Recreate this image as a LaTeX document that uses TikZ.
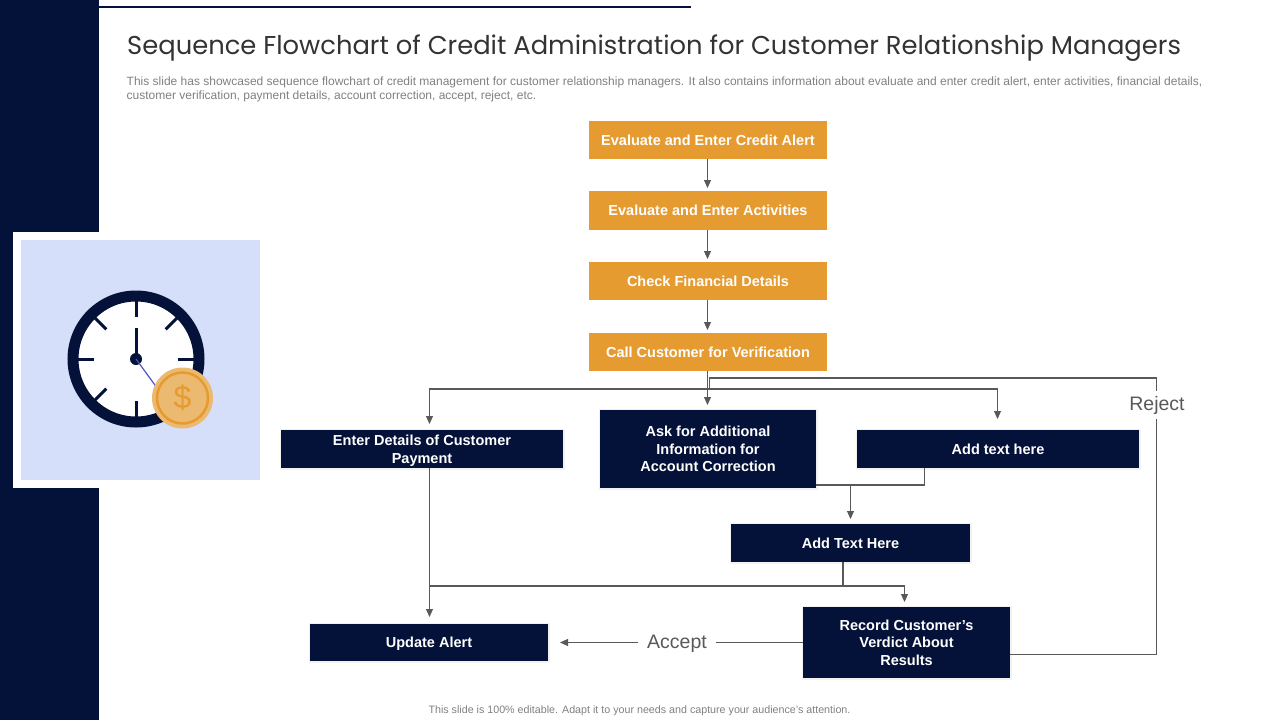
\documentclass[tikz,border=0pt]{standalone}
\usepackage{fontspec}
\setmainfont{Liberation Sans}
\newfontfamily\titlefont{Poppins}
\usetikzlibrary{positioning, arrows.meta, calc}
\definecolor{navy}{HTML}{041239}
\definecolor{amber}{HTML}{E59B30}
\definecolor{paleblue}{HTML}{D6DFFA}
\definecolor{coin}{HTML}{EBB96F}
\definecolor{wire}{HTML}{595959}
\tikzset{
  orangebox/.style={fill=amber, text=white, font=\fontsize{14.5}{17.5}\selectfont\bfseries, minimum width=238, minimum height=38, inner sep=0, outer sep=0, align=center},
  navybox/.style={fill=navy, text=white, font=\fontsize{14.5}{17.5}\selectfont\bfseries, preaction={draw=black!5, line width=3}, inner sep=0, outer sep=0, align=center},
  wireline/.style={draw=wire, line width=1.1},
  wirearrow/.style={wireline, -{Triangle[length=8, width=7]}},
  branchlabel/.style={fill=white, text=wire, font=\fontsize{19.5}{22}\selectfont, inner xsep=9, inner ysep=5, outer sep=0},
}
\begin{document}
\begin{tikzpicture}[x=1pt, y=-1pt]
\useasboundingbox (0, 0) rectangle (1280, 720);

\fill[navy] (0, 0) rectangle (99, 720);
\fill[navy] (99, 6) rectangle (691, 8);
\node[anchor=west, inner sep=0, text=black!80, font=\fontsize{25.8}{30}\titlefont] (heading) at (127, 48) {Sequence Flowchart of Credit Administration for Customer Relationship Managers};
\node[anchor=north west, text=black!50, font=\fontsize{12}{14}\selectfont, align=left, inner sep=0] (summary) at (126.5, 77) {This slide has showcased sequence flowchart of credit management for customer relationship managers. It also contains information about evaluate and enter credit alert, enter activities, financial details,\\customer verification, payment details, account correction, accept, reject, etc.};
\node[text=black!50, font=\fontsize{10.7}{12}\selectfont, inner sep=0] (footnote) at (639.5, 711) {This slide is 100\% editable. Adapt it to your needs and capture your audience's attention.};

% clock panel
\fill[white] (13, 232) rectangle (268, 488);
\fill[paleblue] (21, 240) rectangle (260, 480);
\fill[white] (136, 359) circle(58);
\draw[navy, line width=11] (136, 359) circle(63);
\foreach \a in {0, 90, 180, 270}
  \draw[navy, line width=3] (136, 359) ++(\a:58) -- ++(\a:-16);
\foreach \a in {-45, 135, 225}
  \draw[navy, line width=3] (136, 359) ++(\a:58) -- ++(\a:-16);
\draw[navy, line width=3] (136, 359) -- (136, 328);
\fill[navy] (136, 359) circle(6);
\draw[blue!60!navy!70, line width=1.2] (136, 359) -- (160, 392);
\fill[coin] (182.5, 398) circle(30.5);
\draw[amber, line width=2.5] (182.5, 398) circle(25.5);
\node[text=amber, font=\fontsize{32}{32}\selectfont, inner sep=0] (dollar) at (182.5, 398) {\$};

\node[orangebox] (alert) at (708, 140) {Evaluate and Enter Credit Alert};
\node[orangebox, minimum height=39] (activities) at (708, 210.5) {Evaluate and Enter Activities};
\node[orangebox] (financial) at (708, 281) {Check Financial Details};
\node[orangebox] (verify) at (708, 352) {Call Customer for Verification};

\node[navybox, minimum width=282, minimum height=38, font=\fontsize{14.5}{18}\selectfont\bfseries] (payment) at (422, 449) {\rule{0pt}{13pt}Enter Details of Customer\\Payment};
\node[navybox, minimum width=216, minimum height=78] (correction) at (708, 449) {Ask for Additional\\Information for\\Account Correction};
\node[navybox, minimum width=282, minimum height=38] (addtext) at (998, 449) {Add text here};
\node[navybox, minimum width=239, minimum height=38] (addhere) at (850.5, 543) {Add Text Here};
\node[navybox, minimum width=238, minimum height=37] (update) at (429, 642.5) {\rule{0pt}{13pt}Update Alert};
\node[navybox, minimum width=207, minimum height=71] (verdict) at (906.5, 642.5) {Record Customer’s\\Verdict About\\Results};

\coordinate (branchpoint) at (707.5, 389);
\coordinate (leftdrop) at (429.5, 389);
\coordinate (rightdrop) at (997.5, 389);
\coordinate (rejectstart) at (709.5, 388.5);
\coordinate (rejecttop) at (1156.5, 378);
\coordinate (rejectend) at (1156.5, 654.5);
\coordinate (correctionout) at (816, 485);
\coordinate (addtextout) at (924.5, 468);
\coordinate (mergepoint) at (850.5, 485);
\coordinate (hereout) at (843, 562);
\coordinate (hereturn) at (843, 586);
\coordinate (updateturn) at (429.5, 586);
\coordinate (verdictin) at (904.5, 586);
\coordinate (paymentout) at (429.5, 468);
\coordinate (updatein) at (429.5, 624);
\coordinate (verifyout) at (707.5, 371);
\coordinate (correctionin) at (707.5, 410);

\draw[wirearrow, shorten >=3] ([xshift=-0.5]alert.south) -- ([xshift=-0.5]activities.north);
\draw[wirearrow, shorten >=3] ([xshift=-0.5]activities.south) -- ([xshift=-0.5]financial.north);
\draw[wirearrow, shorten >=3] ([xshift=-0.5]financial.south) -- ([xshift=-0.5]verify.north);

\draw[wirearrow, shorten >=5] (verifyout) -- (correctionin);
\draw[wirearrow, shorten >=6] (branchpoint) -- (leftdrop) -- (payment.north -| leftdrop);
\draw[wirearrow, shorten >=11] (branchpoint) -- (rightdrop) -- (rightdrop |- addtext.north);
\draw[wireline] (rejectstart) |- (rejecttop) -- (rejectend) -- (verdict.east |- rejectend);
\node[branchlabel] (reject) at (1157, 405) {Reject};

\draw[wireline] (correctionout) -- (addtextout |- correctionout) -- (addtextout);
\draw[wirearrow, shorten >=5] (mergepoint) -- (mergepoint |- addhere.north);
\draw[wireline] (hereout) -- (hereturn);
\draw[wirearrow, shorten >=5] (updateturn) -- (verdictin) -- (verdict.north -| verdictin);
\draw[wirearrow, shorten >=7] (paymentout) -- (updatein);
\draw[wirearrow, shorten >=12] (verdict) -- (update);
\node[branchlabel] (accept) at (677, 644) {Accept};
\end{tikzpicture}
\end{document}
